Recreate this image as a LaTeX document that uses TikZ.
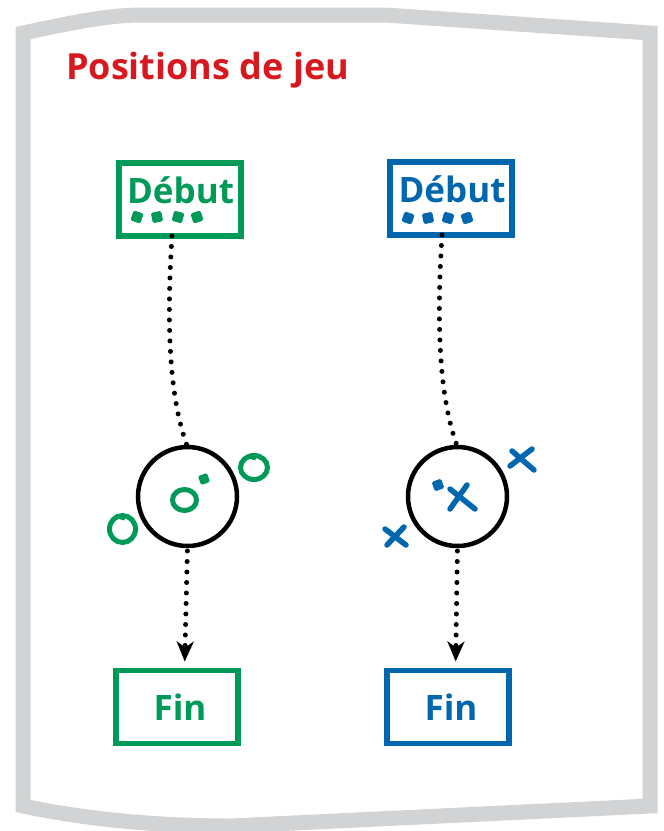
\documentclass[tikz,border=0pt]{standalone}
\usepackage{fontspec}
\setmainfont{Open Sans}
\usetikzlibrary{arrows.meta}
\definecolor{gframe}{HTML}{D1D3D4}
\definecolor{tred}{HTML}{D7191F}
\definecolor{pgreen}{HTML}{009A58}
\definecolor{pblue}{HTML}{0067AE}
\begin{document}
\begin{tikzpicture}[x=1pt,y=-1pt,
  box/.style={draw, line width=5.5pt, minimum width=122pt, minimum height=73pt, inner sep=0pt, outer sep=0pt},
  lbl/.style={font=\fontsize{35}{35}\selectfont\bfseries, inner sep=0pt, anchor=base},
  ring/.style={draw=black, line width=4.5pt, circle, minimum size=99pt, inner sep=0pt, outer sep=0pt},
  dots/.style={line width=5pt, line cap=round, dash pattern=on 0pt off 10.5pt},
  chip/.style={fill, minimum size=10.5pt, inner sep=0pt, rounded corners=1.5pt},
  omark/.style={draw=pgreen, line width=5pt},
  xmark/.style={draw=pblue, line width=5.5pt, line cap=round},
  tip/.style={-{Stealth[length=20pt,width=17pt,inset=6pt]}}
]
\useasboundingbox (0,0) rectangle (664,831);
% frame
\draw[gframe, line width=15pt, line join=miter]
  (23,33) .. controls (80,21) and (110,15) .. (143,15) -- (385,15) -- (650,33)
  -- (650,806) -- (231,826) .. controls (150,826) and (80,818) .. (23,806) -- cycle;
% title
\node[font=\fontsize{36}{36}\selectfont\bfseries, text=tred, inner sep=0pt, anchor=base west] (title) at (66,79) {Positions de jeu};

% green column
\node[box, draw=pgreen] (d1) at (180,199.5) {};
\node[lbl, text=pgreen] (d1t) at (180.5,203) {Début};
\node[chip, pgreen, rotate=-18] (g1) at (137,217) {};
\node[chip, pgreen, rotate=12] (g2) at (157,217) {};
\node[chip, pgreen, rotate=-15] (g3) at (178,217) {};
\node[chip, pgreen, rotate=18] (g4) at (197,217) {};
\node[ring] (c1) at (187.5,496.5) {};
\node[box, draw=pgreen] (f1) at (177,707) {};
\node[lbl, text=pgreen] (f1t) at (180,720) {Fin};
\draw[dots] ([xshift=-8pt]d1.south) .. controls (166,330) and (170,400) .. (c1.north);
\draw[dots, tip, shorten <=5pt, shorten >=9pt] (c1.south) -- ([xshift=-3pt]c1.south |- f1.north);
% O marks
\draw[omark] (184.5,500) ellipse [x radius=12, y radius=10.5];
\draw[omark] (254,467.5) ellipse [x radius=13.5, y radius=12];
\draw[omark] (249,456) -- (256,458);
\draw[omark] (122.5,529) ellipse [x radius=13, y radius=13.5];
\draw[omark] (119,516.5) -- (125,518);
\node[chip, pgreen, minimum size=9.5pt, rotate=20] (g5) at (204,479) {};

% blue column
\node[box, draw=pblue] (d2) at (451,198.5) {};
\node[lbl, text=pblue] (d2t) at (452,202) {Début};
\node[chip, pblue, rotate=-18] (b1) at (408,218) {};
\node[chip, pblue, rotate=12] (b2) at (428,218) {};
\node[chip, pblue, rotate=-15] (b3) at (448,218) {};
\node[chip, pblue, rotate=18] (b4) at (467,218) {};
\node[ring] (c2) at (457.5,496.5) {};
\node[box, draw=pblue] (f2) at (448,707) {};
\node[lbl, text=pblue] (f2t) at (451,720) {Fin};
\draw[dots] ([xshift=-9pt]d2.south) .. controls (436,330) and (440,400) .. (c2.north);
\draw[dots, tip, shorten <=5pt, shorten >=9pt] (c2.south) -- ([xshift=-2pt]c2.south |- f2.north);
% X marks
\draw[xmark] (450,489) -- (475,509);
\draw[xmark] (467,485) -- (450,509);
\node[chip, pblue, minimum size=10pt, rotate=20] (b5) at (438,485) {};
\draw[xmark] (510,466) -- (532,449);
\draw[xmark] (512,451) -- (534,470);
\draw[xmark] (385,529) -- (406,545);
\draw[xmark] (387,545) -- (404,527);
\end{tikzpicture}
\end{document}
